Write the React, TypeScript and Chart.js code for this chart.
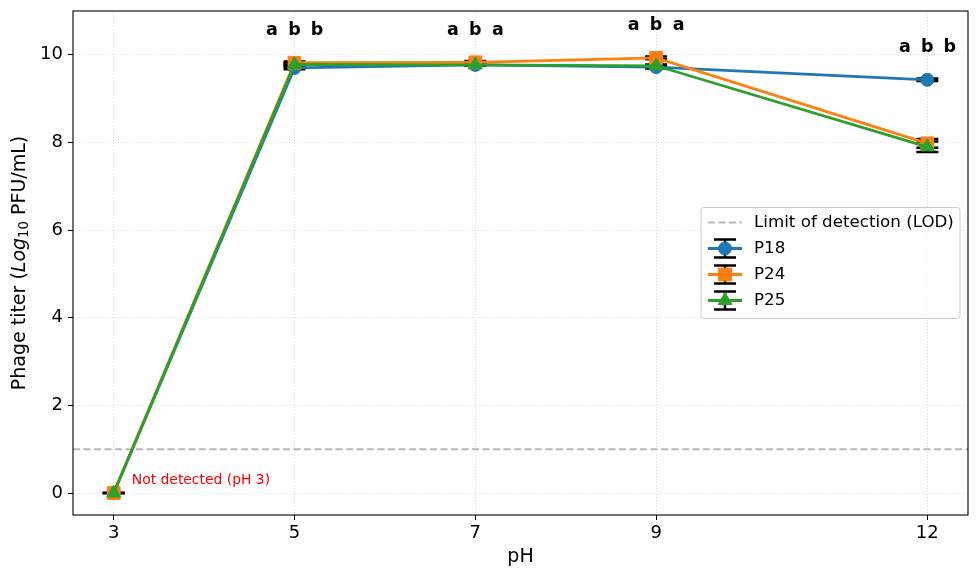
import { useEffect, useRef } from "react";
import { Chart, registerables } from "chart.js";

Chart.register(...registerables);

const phValues = [3, 5, 7, 9, 12];
const p18Mean = [0, 9.7, 9.77, 9.72, 9.43];
const p18Sd = [0, 0.03, 0.02, 0.03, 0.03];
const p24Mean = [0, 9.82, 9.83, 9.93, 7.98];
const p24Sd = [0, 0.03, 0.03, 0.03, 0.1];
const p25Mean = [0, 9.78, 9.77, 9.75, 7.9];
const p25Sd = [0, 0.03, 0.02, 0.03, 0.12];
const p18Letters = ["", "a", "a", "a", "a"];
const p24Letters = ["", "b", "b", "b", "b"];
const p25Letters = ["", "b", "a", "a", "b"];
const yTicks = [0, 2, 4, 6, 8, 10];
const lodValue = 1;

const FONT = "'DejaVu Sans', sans-serif";
const BLUE = "#1f77b4";
const ORANGE = "#ff7f0e";
const GREEN = "#2ca02c";

const series = [
  { label: "P18", mean: p18Mean, sd: p18Sd, color: BLUE, style: "circle", radius: 6.5 },
  { label: "P24", mean: p24Mean, sd: p24Sd, color: ORANGE, style: "rect", radius: 9 },
  { label: "P25", mean: p25Mean, sd: p25Sd, color: GREEN, style: "triangle", radius: 8 },
];

function drawMarker(ctx: CanvasRenderingContext2D, style: string, r: number, x: number, y: number) {
  ctx.beginPath();
  if (style === "circle") {
    ctx.arc(x, y, r, 0, Math.PI * 2);
  } else if (style === "rect") {
    const s = r * Math.SQRT1_2;
    ctx.rect(x - s, y - s, 2 * s, 2 * s);
  } else {
    let rad = 0;
    ctx.moveTo(x + Math.sin(rad) * r, y - Math.cos(rad) * r);
    rad += (2 * Math.PI) / 3;
    ctx.lineTo(x + Math.sin(rad) * r, y - Math.cos(rad) * r);
    rad += (2 * Math.PI) / 3;
    ctx.lineTo(x + Math.sin(rad) * r, y - Math.cos(rad) * r);
    ctx.closePath();
  }
  ctx.fill();
  ctx.stroke();
}

const extras = {
  id: "extras",
  beforeDatasetsDraw(chart: any) {
    const { ctx, chartArea: a, scales } = chart;
    const x = scales.x;
    const y = scales.y;
    ctx.save();
    // LOD line
    ctx.strokeStyle = "#b8b8b8";
    ctx.lineWidth = 2;
    ctx.setLineDash([7, 3.5]);
    const ly = y.getPixelForValue(lodValue);
    ctx.beginPath();
    ctx.moveTo(a.left, ly);
    ctx.lineTo(a.right, ly);
    ctx.stroke();
    ctx.setLineDash([]);
    // error bars
    ctx.strokeStyle = "#000";
    ctx.lineWidth = 2.5;
    series.forEach((s) => {
      phValues.forEach((ph, i) => {
        const px = x.getPixelForValue(ph);
        const top = y.getPixelForValue(s.mean[i] + s.sd[i]);
        const bot = y.getPixelForValue(s.mean[i] - s.sd[i]);
        ctx.beginPath();
        ctx.moveTo(px, top);
        ctx.lineTo(px, bot);
        ctx.moveTo(px - 11, top);
        ctx.lineTo(px + 11, top);
        ctx.moveTo(px - 11, bot);
        ctx.lineTo(px + 11, bot);
        ctx.stroke();
      });
    });
    ctx.restore();
  },
  afterDatasetsDraw(chart: any) {
    const { ctx, chartArea: a, scales } = chart;
    const x = scales.x;
    const y = scales.y;
    ctx.save();
    // frame
    ctx.strokeStyle = "#000";
    ctx.lineWidth = 1.1;
    ctx.strokeRect(a.left, a.top, a.right - a.left, a.bottom - a.top);

    // significance letters
    ctx.fillStyle = "#000";
    ctx.font = `bold 17.5px ${FONT}`;
    ctx.textAlign = "center";
    ctx.textBaseline = "middle";
    phValues.forEach((ph, i) => {
      const top = Math.max(...series.map((s) => s.mean[i] + s.sd[i]));
      const px = x.getPixelForValue(ph);
      const py = y.getPixelForValue(top + 0.7);
      [p18Letters[i], p24Letters[i], p25Letters[i]].forEach((l, k) => {
        if (l) ctx.fillText(l, px + (k - 1) * 22.5, py);
      });
    });

    // not detected note
    ctx.fillStyle = "#ff0000";
    ctx.font = `13.9px ${FONT}`;
    ctx.textAlign = "left";
    ctx.textBaseline = "alphabetic";
    ctx.fillText("Not detected (pH 3)", x.getPixelForValue(3.2), y.getPixelForValue(0.2));

    // legend
    const w = 259;
    const h = 111;
    const bx = a.right - 8 - w;
    const by = (a.top + a.bottom) / 2 - h / 2;
    ctx.fillStyle = "rgba(255,255,255,0.8)";
    ctx.strokeStyle = "#cccccc";
    ctx.lineWidth = 1;
    ctx.beginPath();
    ctx.roundRect(bx, by, w, h, 3);
    ctx.fill();
    ctx.stroke();
    ctx.font = `16.7px ${FONT}`;
    ctx.fillStyle = "#000";
    ctx.textBaseline = "middle";
    const rowY = (k: number) => by + 15 + k * 26;
    const hx0 = bx + 7;
    const hx1 = bx + 41;
    const hxc = (hx0 + hx1) / 2;
    ctx.strokeStyle = "#b8b8b8";
    ctx.lineWidth = 2;
    ctx.setLineDash([7, 3.5]);
    ctx.beginPath();
    ctx.moveTo(hx0, rowY(0));
    ctx.lineTo(hx1, rowY(0));
    ctx.stroke();
    ctx.setLineDash([]);
    ctx.fillText("Limit of detection (LOD)", bx + 53, rowY(0));
    series.forEach((s, k) => {
      const ry = rowY(k + 1);
      ctx.strokeStyle = "#000";
      ctx.lineWidth = 2.5;
      ctx.beginPath();
      ctx.moveTo(hxc, ry - 9);
      ctx.lineTo(hxc, ry + 9);
      ctx.moveTo(hxc - 11, ry - 9);
      ctx.lineTo(hxc + 11, ry - 9);
      ctx.moveTo(hxc - 11, ry + 9);
      ctx.lineTo(hxc + 11, ry + 9);
      ctx.stroke();
      ctx.strokeStyle = s.color;
      ctx.lineWidth = 2.8;
      ctx.beginPath();
      ctx.moveTo(hx0, ry);
      ctx.lineTo(hx1, ry);
      ctx.stroke();
      ctx.fillStyle = s.color;
      ctx.lineWidth = 1;
      drawMarker(ctx, s.style, s.radius, hxc, ry);
      ctx.fillStyle = "#000";
      ctx.fillText(s.label, bx + 53, ry);
    });

    // axis titles
    ctx.fillStyle = "#000";
    ctx.font = `19px ${FONT}`;
    ctx.textAlign = "center";
    ctx.textBaseline = "middle";
    ctx.fillText("pH", (a.left + a.right) / 2, 557);

    ctx.translate(20, (a.top + a.bottom) / 2);
    ctx.rotate(-Math.PI / 2);
    const parts = [
      { t: "Phage titer (", f: `19px ${FONT}`, dy: 0 },
      { t: "Log", f: `italic 19px ${FONT}`, dy: 0 },
      { t: "10", f: `13.3px ${FONT}`, dy: 4.5 },
      { t: " PFU/mL)", f: `19px ${FONT}`, dy: 0 },
    ];
    let total = 0;
    parts.forEach((p) => {
      ctx.font = p.f;
      total += ctx.measureText(p.t).width;
    });
    let cx = -total / 2;
    ctx.textAlign = "left";
    parts.forEach((p) => {
      ctx.font = p.f;
      ctx.fillText(p.t, cx, p.dy);
      cx += ctx.measureText(p.t).width;
    });
    ctx.restore();
  },
};

export default function App() {
  const ref = useRef<HTMLCanvasElement | null>(null);
  useEffect(() => {
    if (!ref.current) return;
    const axisGrid = {
      color: "rgba(176,176,176,0.6)",
      lineWidth: 0.8,
      tickColor: "#000",
      tickLength: 5,
      tickWidth: 1,
      tickBorderDash: [],
    };
    const chart = new Chart(ref.current, {
      type: "line",
      data: {
        datasets: series.map((s, k) => ({
          label: s.label,
          data: phValues.map((ph, i) => ({ x: ph, y: s.mean[i] })),
          borderColor: s.color,
          backgroundColor: s.color,
          borderWidth: 2.8,
          pointStyle: s.style as any,
          pointRadius: s.radius,
          pointBorderWidth: 1,
          pointBackgroundColor: s.color,
          pointBorderColor: s.color,
          tension: 0,
          order: 3 - k,
        })),
      },
      plugins: [extras],
      options: {
        responsive: false,
        animation: false,
        layout: { padding: { left: 0, top: 11, right: 10, bottom: 0 } },
        plugins: {
          legend: { display: false },
          tooltip: { enabled: false },
        },
        scales: {
          x: {
            type: "linear",
            min: 2.55,
            max: 12.45,
            afterBuildTicks: (scale: any) => {
              scale.ticks = phValues.map((v) => ({ value: v }));
            },
            afterFit: (scale: any) => {
              scale.height = 63;
              scale.paddingLeft = 0;
              scale.paddingRight = 0;
            },
            grid: axisGrid,
            border: { display: false, dash: [1, 2] },
            ticks: {
              color: "#000",
              font: { family: FONT, size: 18 },
              padding: 3,
              maxRotation: 0,
              callback: (v: any) => String(v),
            },
          },
          y: {
            min: -0.5,
            max: 11,
            afterBuildTicks: (scale: any) => {
              scale.ticks = yTicks.map((v) => ({ value: v }));
            },
            afterFit: (scale: any) => {
              scale.width = 73;
              scale.paddingTop = 0;
              scale.paddingBottom = 0;
            },
            grid: axisGrid,
            border: { display: false, dash: [1, 2] },
            ticks: {
              color: "#000",
              font: { family: FONT, size: 18 },
              padding: 5,
              callback: (v: any) => String(v),
            },
          },
        },
      },
    });
    return () => chart.destroy();
  }, []);

  return (
    <div style={{ position: "fixed", left: 0, top: 0, width: 978, height: 578, background: "#fff" }}>
      <canvas ref={ref} width={978} height={578}></canvas>
    </div>
  );
}
